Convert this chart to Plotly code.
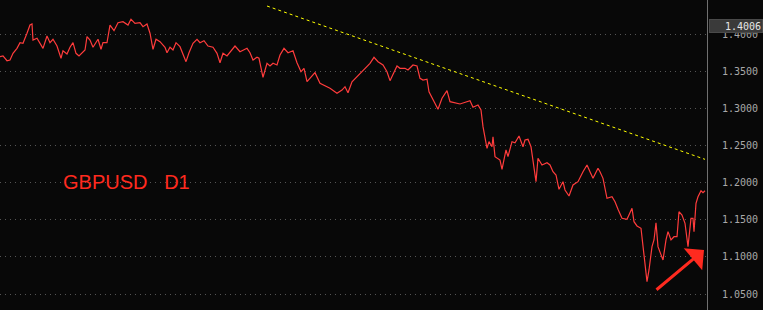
import plotly.graph_objects as go

# bar index (approximate day count from the left edge) and GBPUSD close
bars = [0,3,7,10,13,17,20,23,27,30,32,33,37,42,43,47,50,53,57,61,63,67,70,73,76,79,85,87,90,93,98,101,103,107,110,114,118,123,128,131,135,140,143,147,150,153,156,160,165,167,170,173,176,180,183,186,189,193,197,200,204,208,213,217,220,223,227,233,235,240,247,250,
        253,257,259,263,267,270,273,277,280,284,288,293,297,301,304,307,310,315,320,325,330,337,342,345,348,352,357,363,370,374,378,383,387,390,393,397,400,405,408,413,417,420,423,427,429,433,435,438,442,447,
        450,460,470,473,478,481,483,485,487,489,492,493,495,500,502,506,508,512,515,519,523,525,528,531,533,536,538,542,547,550,553,556,559,563,565,569,573,578,583,587,590,593,598,600,603,607,612,615,618,622,627,632,634,637,641,643,647,649,652,654,656,658,663,666,668,671,674,677,679,682,685,688,691,693,694,696,698,701,703,705]
close = [1.3698,1.3708,1.3644,1.3654,1.3744,1.3811,1.3887,1.3879,1.4014,1.4125,1.4139,1.3923,1.3946,1.3833,1.3811,1.3977,1.3887,1.3933,1.3842,1.3677,1.3779,1.3735,1.3825,1.3887,1.3744,1.3708,1.3788,1.3968,1.3923,1.3825,1.3933,1.3798,1.3887,1.3887,1.4125,1.4049,1.4156,1.4170,1.4125,1.4202,1.4148,1.4156,1.4103,1.4139,1.4014,1.3798,1.3933,1.3900,1.3825,1.3752,1.3825,1.3788,1.3887,1.3833,1.3744,1.3631,1.3752,1.3879,1.3933,1.3887,1.3914,1.3842,1.3825,1.3744,1.3617,1.3744,1.3708,1.3811,1.3842,1.3766,1.3811,1.3752,
         1.3654,1.3690,1.3677,1.3421,1.3609,1.3573,1.3609,1.3586,1.3721,1.3811,1.3752,1.3779,1.3617,1.3496,1.3542,1.3361,1.3407,1.3483,1.3340,1.3303,1.3272,1.3205,1.3249,1.3294,1.3213,1.3361,1.3429,1.3519,1.3609,1.3690,1.3631,1.3586,1.3496,1.3375,1.3452,1.3573,1.3542,1.3542,1.3519,1.3586,1.3573,1.3407,1.3384,1.3394,1.3226,1.3115,1.3070,1.2989,1.3138,1.3240,
         1.3092,1.3061,1.3105,1.3016,1.3047,1.2980,1.2755,1.2576,1.2464,1.2553,1.2485,1.2620,1.2351,1.2306,1.2181,1.2441,1.2351,1.2553,1.2539,1.2629,1.2485,1.2576,1.2585,1.2485,1.2306,1.2014,1.2329,1.2239,1.2270,1.2239,1.2148,1.2104,1.1911,1.2014,1.1902,1.1821,1.1969,1.2014,1.2148,1.2239,1.2148,1.2059,1.2194,1.2148,1.2059,1.1790,1.1811,1.1744,1.1642,1.1520,1.1507,1.1655,1.1475,1.1417,1.1386,1.1160,1.0666,1.0824,1.1138,1.1228,1.1461,1.1138,1.0958,1.1228,1.1340,1.1228,1.1272,1.1272,1.1609,1.1565,1.1453,1.1138,1.1520,1.1520,1.1340,1.1722,1.1811,1.1892,1.1865,1.1892]

trend_bars = [267, 705]
trend_vals = [1.4381, 1.2315]

tick_vals = [1.40, 1.35, 1.30, 1.25, 1.20, 1.15, 1.10, 1.05]
tick_text = ["1.4000", "1.3500", "1.3000", "1.2500", "1.2000", "1.1500", "1.1000", "1.0500"]
last_label = "1.4006"
title_text = "GBPUSD\u00a0\u00a0\u00a0D1"

fig = go.Figure()
fig.add_trace(go.Scatter(x=bars, y=close, mode="lines",
                         line=dict(color="#ff3c3c", width=1.2), hoverinfo="skip"))
fig.add_trace(go.Scatter(x=trend_bars, y=trend_vals, mode="lines",
                         line=dict(color="#ffff00", width=1, dash="3px,3px"), hoverinfo="skip"))

fig.add_annotation(x=61, y=1.2006, xref="x", yref="y", text=title_text, showarrow=False,
                   xanchor="left", yanchor="middle",
                   font=dict(family="Liberation Sans, Arial", size=20, color="#ff2a1f"))

fig.add_annotation(x=704, y=1.1093, xref="x", yref="y", ax=-49, ay=41, text="",
                   showarrow=True, arrowhead=1, arrowsize=1.6, arrowwidth=3, arrowcolor="#ff2a1f")

fig.add_annotation(x=1, y=1.4006, xref="paper", yref="y", yshift=8, xshift=2,
                   text=last_label, showarrow=False, xanchor="left", yanchor="middle",
                   bgcolor="#3a3a3a", bordercolor="#4a4a4a", borderwidth=1,
                   width=50, height=10, align="right",
                   font=dict(family="DejaVu Sans Mono", size=10, color="#e6e6e6"))

fig.update_layout(
    width=763, height=310,
    margin=dict(l=0, r=56, t=0, b=0),
    paper_bgcolor="#080808", plot_bgcolor="#080808",
    showlegend=False,
    xaxis=dict(range=[0, 707], visible=False, showgrid=False, zeroline=False),
    yaxis=dict(range=[1.02844, 1.44623], side="right", tickvals=tick_vals, ticktext=tick_text,
               showgrid=True, gridcolor="#555555", griddash="1px,4px", gridwidth=1,
               zeroline=False, showline=True, linecolor="#707070", linewidth=1,
               ticks="", ticklabelstandoff=12,
               tickfont=dict(family="DejaVu Sans Mono", size=10, color="#a8a8a8")),
)

fig.write_html("out.html")
